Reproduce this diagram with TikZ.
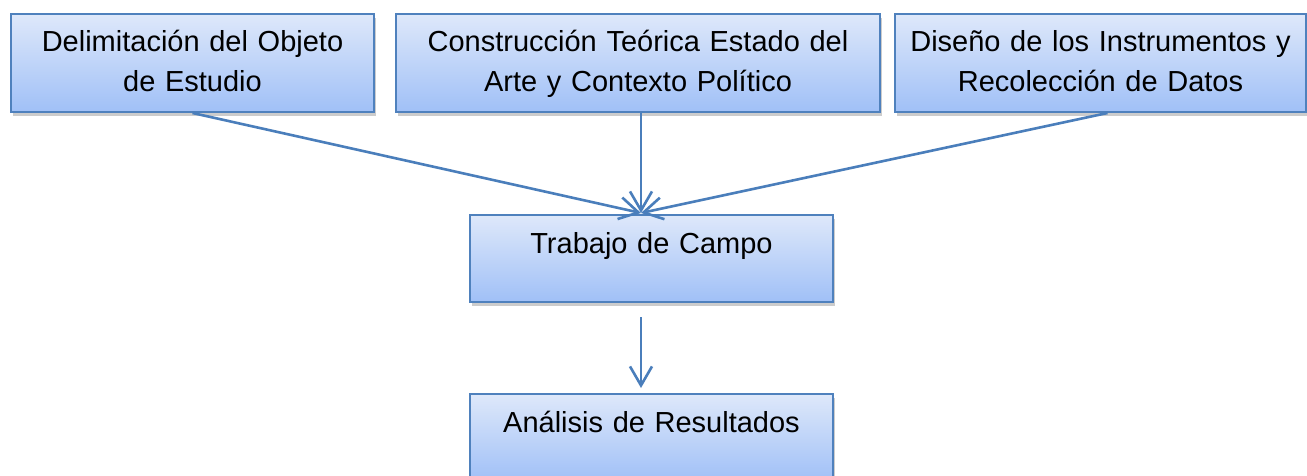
\documentclass[tikz,border=0pt]{standalone}
\usepackage{fontspec}
\setmainfont{Liberation Sans}
\usetikzlibrary{arrows.meta,shadows}
\definecolor{boxline}{RGB}{79,129,189}
\definecolor{boxtop}{RGB}{222,232,250}
\definecolor{boxbottom}{RGB}{160,192,247}
\definecolor{arrowblue}{RGB}{74,126,187}
\tikzstyle{stage} = [rectangle, anchor=north west, inner sep=0pt, align=center, text height=38pt, draw=boxline, line width=2pt, top color=boxtop, bottom color=boxbottom, drop shadow={shadow xshift=1.5pt, shadow yshift=-4pt, opacity=0.4}, font=\fontsize{29}{40}\selectfont]
\tikzstyle{flow} = [draw=arrowblue, line width=2.6pt, -{Straight Barb[length=19pt,width=22pt]}]

\begin{document}
\begin{tikzpicture}[x=1pt, y=-1pt]
\useasboundingbox (0,0) rectangle (1307,476);

\node (delim) [stage, text width=363pt, text depth=60pt] at (10,13) {Delimitación del Objeto\\de Estudio};
\node (teoria) [stage, text width=484pt, text depth=60pt] at (395,13) {Construcción Teórica Estado del\\Arte y Contexto Político};
\node (diseno) [stage, text width=411pt, text depth=60pt] at (894,13) {Diseño de los Instrumentos y\\Recolección de Datos};
\node (campo) [stage, text width=363pt, text depth=49pt] at (469,214) {Trabajo de Campo};
\node (analisis) [stage, text width=363pt, text depth=49pt] at (469,393) {Análisis de Resultados};
\coordinate (meet) at (641,213);

\draw[flow] (delim.south) -- (meet);
\draw[flow] (teoria.south -| meet) -- (meet);
\draw[flow] ([xshift=7pt]diseno.south) -- (meet);

\draw[flow, shorten <=14pt, shorten >=5pt] (campo.south -| meet) -- (analisis.north -| meet);

\end{tikzpicture}
\end{document}
